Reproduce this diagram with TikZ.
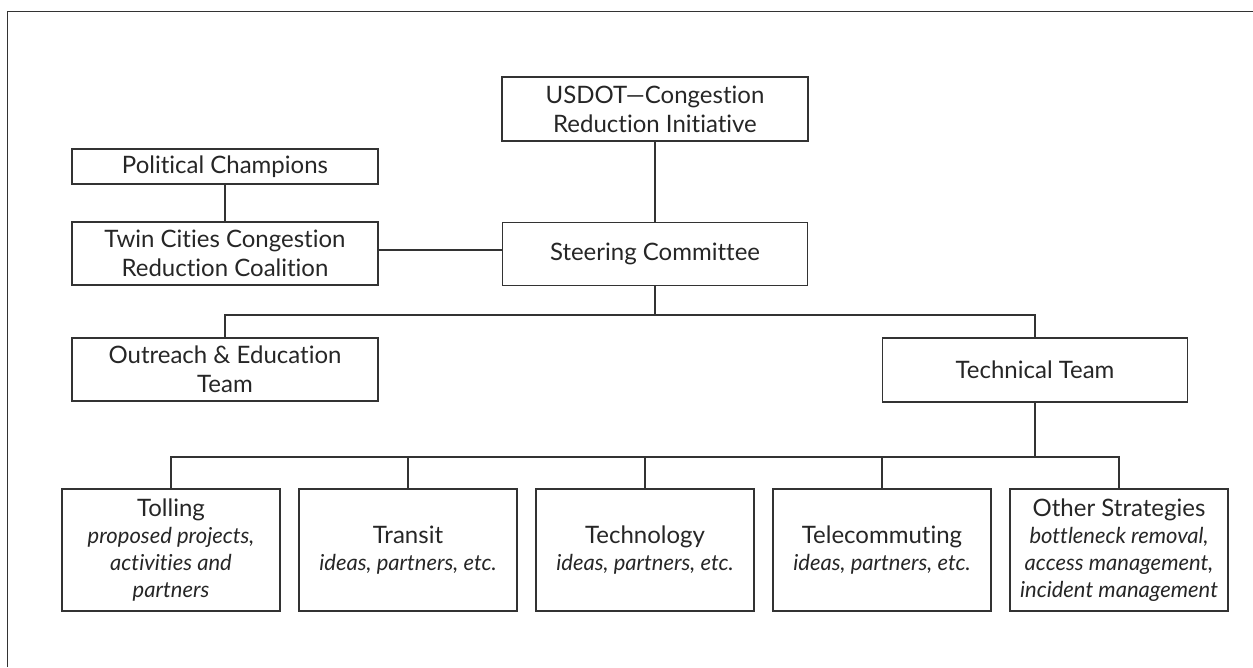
\documentclass[tikz,border=0pt]{standalone}
\usepackage{fontspec}
\setmainfont{Lato}[Ligatures=NoCommon]
\newcommand{\sub}{\fontsize{22}{26}\selectfont\itshape}
\begin{document}
\begin{tikzpicture}[x=1pt,y=-1pt,
  box/.style={draw=black!80,line width=1.1pt,align=center,inner sep=2pt,
    font=\fontsize{24}{29}\selectfont,text=black!85},
  link/.style={draw=black!80,line width=1.1pt}]
\useasboundingbox (0,0) rectangle (1253,667);
\draw[draw=black!80,line width=0.9pt] (7,667) -- (7,11) -- (1253,11);
\node[box,minimum width=306pt,minimum height=64pt] (usdot) at (655,109) {USDOT---Congestion\\Reduction Initiative};
\node[box,minimum width=305pt,minimum height=63pt] (steer) at (655,254) {Steering Committee};
\node[box,minimum width=306pt,minimum height=35pt] (pol) at (225,166.5) {Political Champions};
\node[box,minimum width=306pt,minimum height=63pt] (twin) at (225,253.5) {Twin Cities Congestion\\Reduction Coalition};
\node[box,minimum width=306pt,minimum height=63pt] (out) at (225,369.5) {Outreach \& Education\\Team};
\node[box,minimum width=305pt,minimum height=64pt] (tech) at (1035,370) {Technical Team};
\tikzset{leaf/.style={box,minimum width=218pt,minimum height=122pt,font=\fontsize{24}{27}\selectfont}}
\node[leaf] (toll) at (171,550) {Tolling\\\sub proposed projects,\\\sub activities and\\\sub partners};
\node[leaf] (transit) at (408,550) {Transit\\\sub ideas, partners, etc.};
\node[leaf] (techno) at (645,550) {Technology\\\sub ideas, partners, etc.};
\node[leaf] (tele) at (882,550) {Telecommuting\\\sub ideas, partners, etc.};
\node[leaf] (other) at (1119,550) {Other Strategies\\\sub bottleneck removal,\\\sub access management,\\\sub incident management};
\coordinate (bus1) at (655,315);
\coordinate (bus2) at (1035,457);
\coordinate (tw) at (378,250);
\draw[link] (usdot) -- (steer);
\draw[link] (pol) -- (twin);
\draw[link] (tw) -- (tw -| steer.west);
\draw[link] (steer) -- (bus1);
\draw[link] (out.north) |- (bus1) -| (tech.north);
\draw[link] (tech) -- (bus2);
\draw[link] (toll.north) |- (bus2) -| (other.north);
\draw[link] (transit.north) -- (transit.north |- bus2);
\draw[link] (techno.north) -- (techno.north |- bus2);
\draw[link] (tele.north) -- (tele.north |- bus2);
\end{tikzpicture}
\end{document}
